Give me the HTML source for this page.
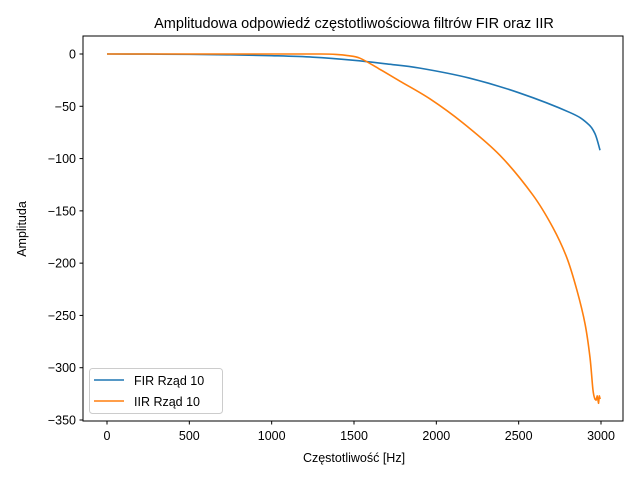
<!DOCTYPE html>
<html><head><meta charset="utf-8"><style>
body{margin:0;background:#fff}
svg{display:block;font-family:"Liberation Sans","DejaVu Sans",sans-serif}
</style></head><body>
<svg id="chart" width="640" height="480" xmlns="http://www.w3.org/2000/svg">
<text x="354" y="28" font-size="14.5" text-anchor="middle">Amplitudowa odpowiedź częstotliwościowa filtrów FIR oraz IIR</text>
<text x="354" y="462" font-size="12.5" text-anchor="middle">Częstotliwość [Hz]</text>
<text x="26" y="229" font-size="12.5" text-anchor="middle" transform="rotate(-90 26 229)">Amplituda</text>
<g id="ticks"></g>
<g id="series"></g>
<rect x="83" y="36" width="540" height="385" fill="none" stroke="#000" stroke-width="1"/>
<g>
<rect x="89.5" y="368.5" width="133" height="45" rx="3" fill="#fff" fill-opacity="0.8" stroke="#ccc"/>
<line x1="94" y1="380" x2="124" y2="380" stroke="#1f77b4" stroke-width="1.5"/>
<text x="134" y="385" font-size="12.5">FIR Rząd 10</text>
<line x1="94" y1="401" x2="124" y2="401" stroke="#ff7f0e" stroke-width="1.5"/>
<text x="134" y="406" font-size="12.5">IIR Rząd 10</text>
</g>
</svg>
<script>
const xTicks=[0,500,1000,1500,2000,2500,3000];
const yTicks=[0,-50,-100,-150,-200,-250,-300,-350];
const firFreq=[0,250,500,750,1000,1250,1500,1700,1900,2200,2500,2812,2915,2963,2994];
const firAmp=[0,-0.1,-0.3,-0.8,-1.6,-3,-6,-9.5,-13.5,-23,-37,-56,-66,-76,-92];
const iirFreq=[0,500,1000,1300,1400,1460,1536,1650,1779,1962,2162,2387,2587,2708,2793,2854,2903,2933,2951,2963,2970,2977,2985,2990,2995];
const iirAmp=[0,0,0,0,-0.5,-1.5,-4,-14,-26,-43,-66,-97,-135,-166,-195,-226,-258,-290,-321,-330,-331,-327,-334,-327,-330];
const NS="http://www.w3.org/2000/svg";
function xs(v){return 107+v*(494/3000);}
function ys(v){return 54-v*(366/350);}
const tg=document.getElementById('ticks');
xTicks.forEach(t=>{
 const l=document.createElementNS(NS,'line');
 l.setAttribute('x1',xs(t));l.setAttribute('x2',xs(t));l.setAttribute('y1',421);l.setAttribute('y2',424.5);l.setAttribute('stroke','#000');
 
 
 tg.appendChild(l);
 const tx=document.createElementNS(NS,'text');
 tx.setAttribute('x',xs(t));tx.setAttribute('y',440);tx.setAttribute('font-size','12.5');tx.setAttribute('text-anchor','middle');tx.textContent=t;
 
 
 tg.appendChild(tx);
});
yTicks.forEach(t=>{
 const l=document.createElementNS(NS,'line');
 l.setAttribute('x1',79.5);l.setAttribute('x2',83);l.setAttribute('y1',ys(t));l.setAttribute('y2',ys(t));l.setAttribute('stroke','#000');
 
 
 tg.appendChild(l);
 const tx=document.createElementNS(NS,'text');
 tx.setAttribute('x',76);tx.setAttribute('y',ys(t)+4.5);tx.setAttribute('font-size','12.5');tx.setAttribute('text-anchor','end');tx.textContent=t===0?'0':'\u2212'+(-t);
 
 
 tg.appendChild(tx);
});
const sg=document.getElementById('series');
function draw(fx,fy,color,name,smoothUntil){
 const P=fx.map((f,i)=>[xs(f),ys(fy[i])]);
 let d='M'+P[0][0].toFixed(2)+','+P[0][1].toFixed(2);
 for(let i=0;i<P.length-1;i++){
  if(fx[i+1]>smoothUntil){d+=' L'+P[i+1][0].toFixed(2)+','+P[i+1][1].toFixed(2);continue;}
  const p0=P[Math.max(0,i-1)],p1=P[i],p2=P[i+1],p3=P[Math.min(P.length-1,i+2)];
  const c1=[p1[0]+(p2[0]-p0[0])/6,p1[1]+(p2[1]-p0[1])/6];
  const c2=[p2[0]-(p3[0]-p1[0])/6,p2[1]-(p3[1]-p1[1])/6];
  d+=' C'+c1.map(v=>v.toFixed(2)).join(',')+' '+c2.map(v=>v.toFixed(2)).join(',')+' '+p2.map(v=>v.toFixed(2)).join(',');
 }
 const p=document.createElementNS(NS,'path');
 p.setAttribute('d',d);
 p.setAttribute('fill','none');p.setAttribute('stroke',color);p.setAttribute('stroke-width','1.6');p.setAttribute('stroke-linejoin','round');
 
 
 sg.appendChild(p);
}
draw(firFreq,firAmp,'#1f77b4','fir-line',5000);
draw(iirFreq,iirAmp,'#ff7f0e','iir-line',2963);
</script>
</body></html>
